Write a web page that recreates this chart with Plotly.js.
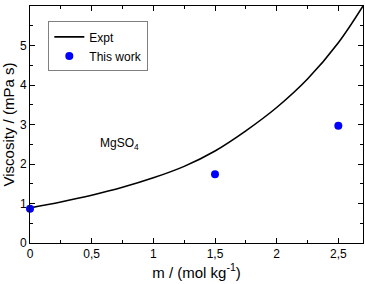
<!DOCTYPE html>
<html>
<head>
<meta charset="utf-8">
<script src="https://cdn.plot.ly/plotly-3.0.1.min.js"></script>
<style>html,body{margin:0;padding:0;background:#fff;}#chart{width:365px;height:284px;}</style>
</head>
<body>
<div id="chart"></div>
<script>
// Experimental curve (Expt)
const exptM = [0, 0.25, 0.5, 0.75, 1.0, 1.25, 1.5, 1.75, 2.0, 2.25, 2.5, 2.7];
const exptVisc = [0.89, 1.04, 1.21, 1.41, 1.65, 1.94, 2.33, 2.84, 3.43, 4.15, 5.07, 6.0];
// This work (simulation points)
const workM = [0, 1.5, 2.5];
const workVisc = [0.87, 1.74, 2.97];
const xTicks = [0, 0.5, 1, 1.5, 2, 2.5];
const yTicks = [0, 1, 2, 3, 4, 5, 6];

const font = 'Liberation Sans, Arial, sans-serif';

const traces = [
  {x: exptM, y: exptVisc, mode: 'lines', name: 'Expt', line: {color: '#000', width: 1.6, shape: 'spline', smoothing: 1}},
  {x: workM, y: workVisc, mode: 'markers', name: 'This work', marker: {color: '#0000ff', size: 8}, cliponaxis: false}
];

const axisCommon = {
  showline: true, linecolor: '#000', linewidth: 1, mirror: 'allticks',
  ticks: 'inside', ticklen: 5, tickwidth: 1, tickcolor: '#000',
  showgrid: false, zeroline: false,
  tickfont: {family: font, size: 12, color: '#000'}
};

const layout = {
  width: 365, height: 284,
  margin: {l: 30, r: 2, t: 6, b: 41},
  paper_bgcolor: '#fff', plot_bgcolor: '#fff',
  separators: ',.',
  showlegend: true,
  legend: {x: 0.055, y: 0.935, xanchor: 'left', yanchor: 'top', bordercolor: '#808080', borderwidth: 1, bgcolor: '#fff',
           font: {family: font, size: 12, color: '#000'}, itemwidth: 30, tracegroupgap: 0},
  xaxis: Object.assign({}, axisCommon, {
    range: [0, 2.7], tickvals: xTicks,
    minor: {dtick: 0.25, ticks: 'inside', ticklen: 3, tickcolor: '#000'},
    title: {text: 'm / (mol kg<sup>-1</sup>)', font: {family: font, size: 15, color: '#000'}, standoff: 6}
  }),
  yaxis: Object.assign({}, axisCommon, {
    range: [0, 6], tickvals: yTicks,
    minor: {dtick: 0.5, ticks: 'inside', ticklen: 3, tickcolor: '#000'},
    title: {text: 'Viscosity / (mPa s)', font: {family: font, size: 15, color: '#000'}, standoff: 4}
  }),
  annotations: [
    {x: 0.55, y: 2.5, xref: 'x', yref: 'y', xanchor: 'left', yanchor: 'middle', showarrow: false,
     text: 'MgSO<sub>4</sub>', font: {family: font, size: 12, color: '#000'}}
  ]
};

Plotly.newPlot('chart', traces, layout, {displayModeBar: false, staticPlot: true});
</script>
</body>
</html>
